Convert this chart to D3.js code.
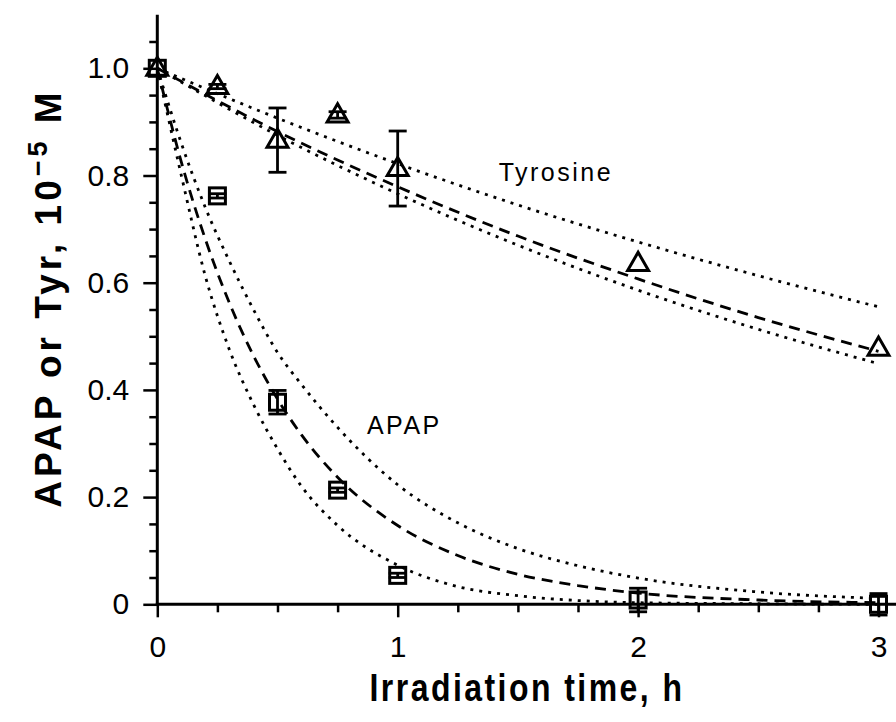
<!DOCTYPE html>
<html>
<head>
<meta charset="utf-8">
<script src="https://cdn.jsdelivr.net/npm/d3@7"></script>
<style>
  html, body { margin: 0; padding: 0; background: #fff; }
  svg { display: block; }
  text { font-family: "Liberation Sans", Arial, sans-serif; fill: #000; }
</style>
</head>
<body>
<div class="chart"></div>
<script>
// measured points (time in h, conc in 1e-5 M)
const times = [0, 0.25, 0.5, 0.75, 1, 2, 3];
const apap = [1.0, 0.762, 0.377, 0.213, 0.054, 0.008, 0.0];
const apapErr = [0, 0.004, 0.022, 0.004, 0.004, 0.022, 0.02];
const tyr = [1.0, 0.966, 0.866, 0.913, 0.813, 0.636, 0.478];
const tyrErr = [0, 0.004, 0.06, 0.006, 0.07, 0, 0];

// fitted curves
const apapFitTimes = [0, 0.1, 0.2, 0.3, 0.4, 0.5, 0.6, 0.75, 1, 1.25, 1.5, 1.75, 2, 2.5, 3];
const apapFit = [1.0, 0.825, 0.681, 0.562, 0.464, 0.383, 0.316, 0.237, 0.147, 0.091, 0.056, 0.035, 0.021, 0.008, 0.003];
const apapUpper = [1.0, 0.86, 0.74, 0.64, 0.55, 0.47, 0.41, 0.33, 0.223, 0.152, 0.104, 0.072, 0.049, 0.023, 0.011];
const apapLower = [1.0, 0.80, 0.612, 0.475, 0.373, 0.29, 0.22, 0.147, 0.073, 0.033, 0.016, 0.007, 0.003, 0.001, 0.0];

const tyrFitTimes = [0, 0.5, 1, 1.5, 2, 2.5, 3];
const tyrFit = [1.0, 0.882, 0.779, 0.687, 0.607, 0.535, 0.472];
const tyrUpper = [1.0, 0.907, 0.822, 0.745, 0.676, 0.613, 0.555];
const tyrLower = [1.0, 0.875, 0.766, 0.670, 0.586, 0.513, 0.449];

const xMajor = [0, 1, 2, 3];
const xMinor = [0.25, 0.5, 0.75, 1.25, 1.5, 1.75, 2.25, 2.5, 2.75];
const yMajor = [0, 0.2, 0.4, 0.6, 0.8, 1.0];
const yMinor = [0.05, 0.1, 0.15, 0.25, 0.3, 0.35, 0.45, 0.5, 0.55, 0.65, 0.7, 0.75, 0.85, 0.9, 0.95, 1.05];

const width = 896, height = 722;

const x = d3.scaleLinear().domain([0, 3]).range([157.3, 878.5]);
const y = d3.scaleLinear().domain([0, 1]).range([604.3, 68.3]);

const svg = d3.select('.chart')
  .append('svg')
  .attr('width', width)
  .attr('height', height);

// axes
const yMinorAxis = d3.axisLeft(y).tickValues(yMinor).tickSize(8).tickFormat('');
const yMajorAxis = d3.axisLeft(y).tickValues(yMajor).tickSize(14).tickPadding(14)
  .tickFormat(d => d === 0 ? '0' : d3.format('.1f')(d));
const xMinorAxis = d3.axisBottom(x).tickValues(xMinor).tickSize(8).tickFormat('');
const xMajorAxis = d3.axisBottom(x).tickValues(xMajor).tickSize(13).tickPadding(18).tickFormat(d3.format('d'));

const gy = svg.append('g').attr('transform', `translate(${x(0)},0)`);
gy.append('g').call(yMinorAxis);
gy.append('g').call(yMajorAxis);
const gx = svg.append('g').attr('transform', `translate(0,${y(0)})`);
gx.append('g').call(xMinorAxis);
gx.append('g').call(xMajorAxis);

svg.selectAll('.domain').remove();
svg.selectAll('.tick line').attr('stroke', '#000').attr('stroke-width', 2.5);
svg.selectAll('.tick text')
  .attr('font-size', 30)
  .attr('font-family', '"Liberation Sans", Arial, sans-serif')
  .attr('fill', '#000');

// axis lines
svg.append('line')
  .attr('x1', x(0)).attr('x2', x(0))
  .attr('y1', y(0) + 1.5).attr('y2', y(1.1))
  .attr('stroke', '#000').attr('stroke-width', 3);
svg.append('line')
  .attr('x1', x(0) - 1.5).attr('x2', width)
  .attr('y1', y(0)).attr('y2', y(0))
  .attr('stroke', '#000').attr('stroke-width', 3);

// curves
const line = (ts) => d3.line()
  .x((d, i) => x(ts[i]))
  .y(d => y(d))
  .curve(d3.curveMonotoneX);

const curves = [
  { t: apapFitTimes, v: apapFit, dash: '11,7' },
  { t: apapFitTimes, v: apapUpper, dash: '3,6' },
  { t: apapFitTimes, v: apapLower, dash: '3,6' },
  { t: tyrFitTimes, v: tyrFit, dash: '11,7' },
  { t: tyrFitTimes, v: tyrUpper, dash: '3,6' },
  { t: tyrFitTimes, v: tyrLower, dash: '3,6' },
];

svg.append('g')
  .selectAll('path')
  .data(curves)
  .enter()
  .append('path')
  .attr('d', c => line(c.t)(c.v))
  .attr('fill', 'none')
  .attr('stroke', '#000')
  .attr('stroke-width', 2.8)
  .attr('stroke-dasharray', c => c.dash);

// error bars
const drawErr = (vals, errs, cls) => {
  const data = times.map((t, i) => ({ t, v: vals[i], e: errs[i] })).filter(d => d.e > 0);
  const g = svg.append('g').attr('class', cls);
  data.forEach(d => {
    g.append('line')
      .attr('x1', x(d.t)).attr('x2', x(d.t))
      .attr('y1', y(d.v + d.e)).attr('y2', y(d.v - d.e))
      .attr('stroke', '#000').attr('stroke-width', 2.8);
    [d.v + d.e, d.v - d.e].forEach(v => {
      g.append('line')
        .attr('x1', x(d.t) - 9).attr('x2', x(d.t) + 9)
        .attr('y1', y(v)).attr('y2', y(v))
        .attr('stroke', '#000').attr('stroke-width', 2.8);
    });
  });
};
drawErr(apap, apapErr, 'err-apap');
drawErr(tyr, tyrErr, 'err-tyr');

// markers
svg.append('g')
  .selectAll('rect')
  .data(apap)
  .enter()
  .append('rect')
  .attr('x', (d, i) => x(times[i]) - 8)
  .attr('y', d => y(d) - 8)
  .attr('width', 16)
  .attr('height', 16)
  .attr('fill', 'none')
  .attr('stroke', '#000')
  .attr('stroke-width', 3);

const tri = d3.symbol().type(d3.symbolTriangle).size(190);
svg.append('g')
  .selectAll('path')
  .data(tyr)
  .enter()
  .append('path')
  .attr('d', tri)
  .attr('transform', (d, i) => `translate(${x(times[i])},${y(d) + 1})`)
  .attr('fill', 'none')
  .attr('stroke', '#000')
  .attr('stroke-width', 3);

// series labels
svg.append('text')
  .attr('x', x(1.42)).attr('y', y(0.79))
  .attr('font-size', 25)
  .attr('letter-spacing', 2.5)
  .text('Tyrosine');
svg.append('text')
  .attr('x', x(0.872)).attr('y', y(0.318))
  .attr('font-size', 25)
  .attr('letter-spacing', 2.5)
  .text('APAP');

// axis titles
svg.append('text')
  .attr('transform', 'translate(527,701) scale(0.82,1)')
  .attr('text-anchor', 'middle')
  .attr('font-size', 39)
  .attr('font-weight', 'bold')
  .attr('letter-spacing', 3)
  .text('Irradiation time, h');

const yt = svg.append('text')
  .attr('transform', 'translate(61,298) rotate(-90)')
  .attr('text-anchor', 'middle')
  .attr('font-size', 37)
  .attr('font-weight', 'bold')
  .attr('letter-spacing', 4);
yt.append('tspan').text('APAP or Tyr, 10');
yt.append('tspan').attr('dy', -14).attr('font-size', 27).text('\u22125');
yt.append('tspan').attr('dy', 14).text(' M');
</script>
</body>
</html>
